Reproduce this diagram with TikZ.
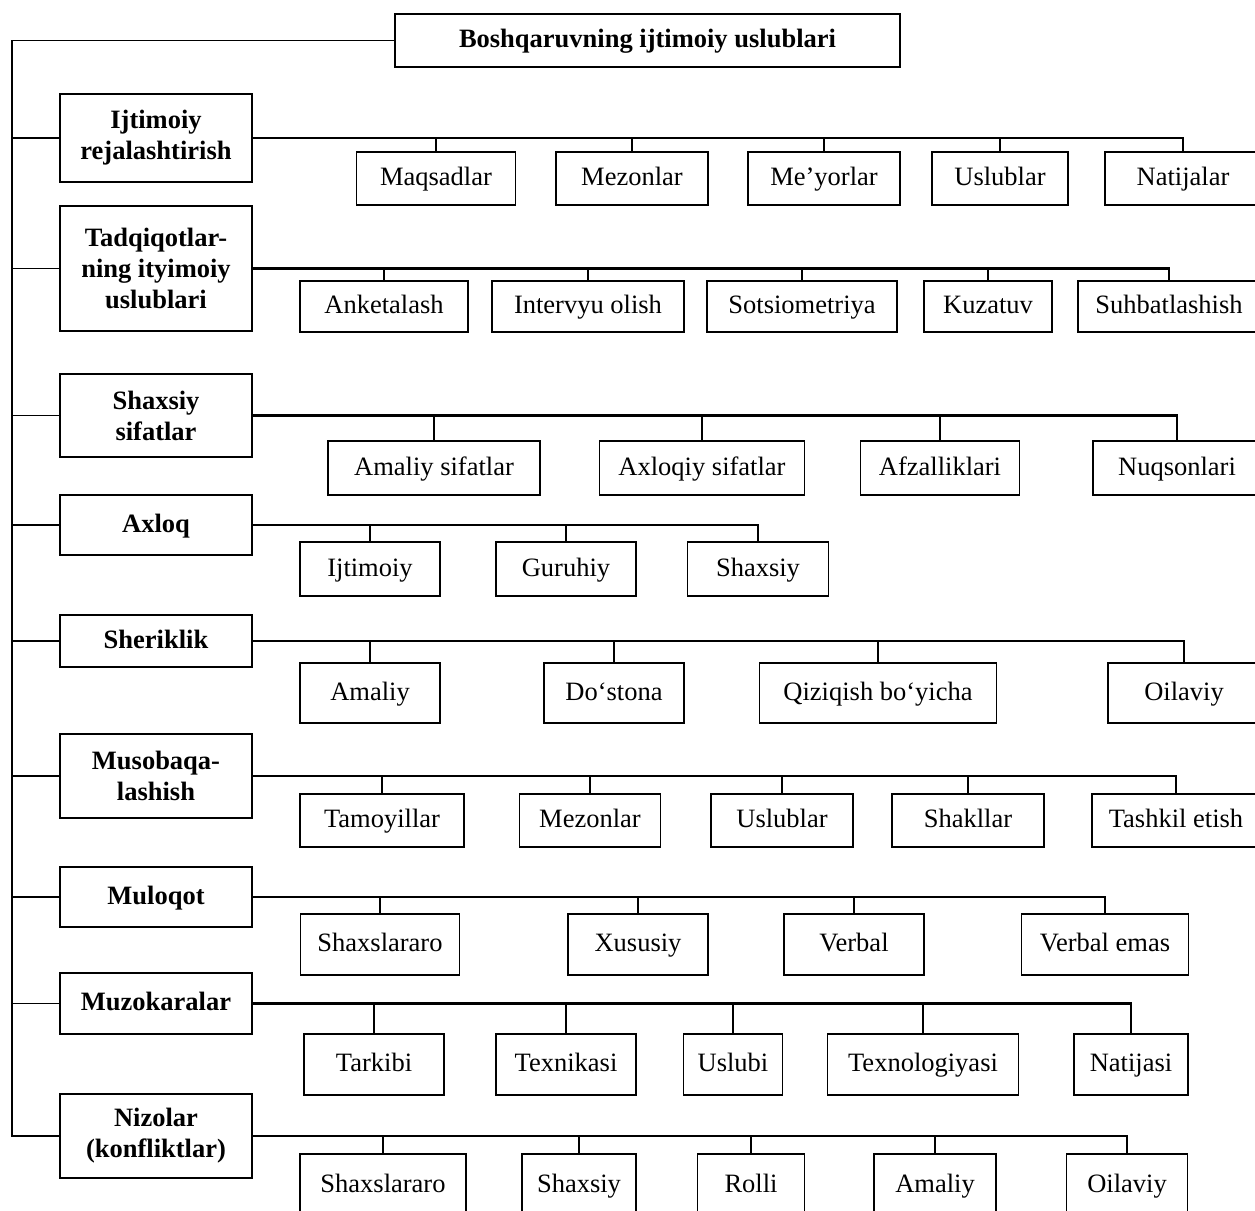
\documentclass[tikz,border=0pt]{standalone}
\usepackage{fontspec}
\setmainfont{Liberation Serif}
\begin{document}
\begin{tikzpicture}[x=1pt,y=-1pt,
  every node/.style={inner sep=0pt, font=\fontsize{26.5}{31}\selectfont},
  bx/.style={draw, line width=1.6pt, align=center},
  kid/.style={bx, text height=19pt, text depth=5pt},
  cat/.style={bx, minimum width=192pt, font=\fontsize{26.5}{31}\selectfont\bfseries},
  conn/.style={line width=1.6pt},
  mainline/.style={line width=2.3pt}]
\clip (0,0) rectangle (1255,1210);
\fill[white] (0,0) rectangle (1255,1210);
\coordinate (tr) at (12,0);

% title
\node[bx, minimum width=505pt, minimum height=53pt, text height=19pt, text depth=5pt, font=\fontsize{26.5}{31}\selectfont\bfseries] (title) at (647.5,40.5) {Boshqaruvning ijtimoiy uslublari};

% categories
\node[cat, minimum height=88pt]  (c1) at (156,138)   {Ijtimoiy\\rejalashtirish};
\node[cat, minimum height=125pt] (c2) at (156,268.5) {Tadqiqotlar-\\ning ityimoiy\\uslublari};
\node[cat, minimum height=83pt]  (c3) at (156,415.5) {Shaxsiy\\sifatlar};
\node[cat, minimum height=60pt, text height=19pt, text depth=5pt]  (c4) at (156,525)   {Axloq};
\node[cat, minimum height=52pt, text height=19pt, text depth=5pt]  (c5) at (156,641)   {Sheriklik};
\node[cat, minimum height=84pt]  (c6) at (156,776)   {Musobaqa-\\lashish};
\node[cat, minimum height=60pt, text height=19pt, text depth=5pt]  (c7) at (156,897)   {Muloqot};
\node[cat, minimum height=61pt, text height=19pt, text depth=5pt]  (c8) at (156,1003.5){Muzokaralar};
\node[cat, minimum height=84pt]  (c9) at (156,1136)  {Nizolar\\(konfliktlar)};

% trunk
\draw[conn] (title.west) -| (c9.west -| tr) -- (c9.west);
\foreach \c in {c1,c2,c3,c4,c5,c6,c7,c8}
  \draw[conn] (\c.west -| tr) -- (\c.west);

% row 1
\begin{scope}[every node/.append style={kid, minimum height=53pt}]
\node[minimum width=159pt] (k11) at (436,178.5)  {Maqsadlar};
\node[minimum width=152pt] (k12) at (632,178.5)  {Mezonlar};
\node[minimum width=152pt] (k13) at (824,178.5)  {Me’yorlar};
\node[minimum width=136pt] (k14) at (1000,178.5) {Uslublar};
\node[minimum width=156pt] (k15) at (1183,178.5) {Natijalar};
\end{scope}
\draw[mainline] (c1.east) -| (k15.north);
\foreach \k in {k11,k12,k13,k14}
  \draw[conn] (\k.north) -- (\k.north |- c1.east);

% row 2
\begin{scope}[every node/.append style={kid, minimum height=51pt}]
\node[minimum width=168pt] (k21) at (384,306.5)  {Anketalash};
\node[minimum width=192pt] (k22) at (588,306.5)  {Intervyu olish};
\node[minimum width=190pt] (k23) at (802,306.5)  {Sotsiometriya};
\node[minimum width=128pt] (k24) at (988,306.5)  {Kuzatuv};
\node[minimum width=182pt] (k25) at (1169,306.5) {Suhbatlashish};
\end{scope}
\draw[mainline] (c2.east) -| (k25.north);
\foreach \k in {k21,k22,k23,k24}
  \draw[conn] (\k.north) -- (\k.north |- c2.east);

% row 3
\begin{scope}[every node/.append style={kid, minimum height=54pt}]
\node[minimum width=212pt] (k31) at (434,468)  {Amaliy sifatlar};
\node[minimum width=205pt] (k32) at (702,468)  {Axloqiy sifatlar};
\node[minimum width=159pt] (k33) at (940,468)  {Afzalliklari};
\node[minimum width=168pt] (k34) at (1177,468) {Nuqsonlari};
\end{scope}
\draw[mainline] (c3.east) -| (k34.north);
\foreach \k in {k31,k32,k33}
  \draw[conn] (\k.north) -- (\k.north |- c3.east);

% row 4
\begin{scope}[every node/.append style={kid, minimum height=54pt}]
\node[minimum width=140pt] (k41) at (370,569) {Ijtimoiy};
\node[minimum width=140pt] (k42) at (566,569) {Guruhiy};
\node[minimum width=141pt] (k43) at (758,569) {Shaxsiy};
\end{scope}
\draw[mainline] (c4.east) -| (k43.north);
\foreach \k in {k41,k42}
  \draw[conn] (\k.north) -- (\k.north |- c4.east);

% row 5
\begin{scope}[every node/.append style={kid, minimum height=60pt}]
\node[minimum width=140pt] (k51) at (370,693)  {Amaliy};
\node[minimum width=140pt] (k52) at (614,693)  {Do‘stona};
\node[minimum width=237pt] (k53) at (878,693)  {Qiziqish bo‘yicha};
\node[minimum width=152pt] (k54) at (1184,693) {Oilaviy};
\end{scope}
\draw[mainline] (c5.east) -| (k54.north);
\foreach \k in {k51,k52,k53}
  \draw[conn] (\k.north) -- (\k.north |- c5.east);

% row 6
\begin{scope}[every node/.append style={kid, minimum height=53pt}]
\node[minimum width=164pt] (k61) at (382,820.5)  {Tamoyillar};
\node[minimum width=141pt] (k62) at (590,820.5)  {Mezonlar};
\node[minimum width=142pt] (k63) at (782,820.5)  {Uslublar};
\node[minimum width=152pt] (k64) at (968,820.5)  {Shakllar};
\node[minimum width=168pt] (k65) at (1176,820.5) {Tashkil etish};
\end{scope}
\draw[mainline] (c6.east) -| (k65.north);
\foreach \k in {k61,k62,k63,k64}
  \draw[conn] (\k.north) -- (\k.north |- c6.east);

% row 7
\begin{scope}[every node/.append style={kid, minimum height=61pt}]
\node[minimum width=159pt] (k71) at (380,944.5)  {Shaxslararo};
\node[minimum width=140pt] (k72) at (638,944.5)  {Xususiy};
\node[minimum width=140pt] (k73) at (854,944.5)  {Verbal};
\node[minimum width=167pt] (k74) at (1105,944.5) {Verbal emas};
\end{scope}
\draw[mainline] (c7.east) -| (k74.north);
\foreach \k in {k71,k72,k73}
  \draw[conn] (\k.north) -- (\k.north |- c7.east);

% row 8
\begin{scope}[every node/.append style={kid, minimum height=61pt}]
\node[minimum width=140pt] (k81) at (374,1064.5)  {Tarkibi};
\node[minimum width=140pt] (k82) at (566,1064.5)  {Texnikasi};
\node[minimum width=99pt]  (k83) at (733,1064.5)  {Uslubi};
\node[minimum width=191pt] (k84) at (923,1064.5)  {Texnologiyasi};
\node[minimum width=114pt] (k85) at (1131,1064.5) {Natijasi};
\end{scope}
\draw[mainline] (c8.east) -| (k85.north);
\foreach \k in {k81,k82,k83,k84}
  \draw[conn] (\k.north) -- (\k.north |- c8.east);

% row 9
\begin{scope}[every node/.append style={kid, minimum height=62pt}]
\node[minimum width=166pt] (k91) at (383,1185)  {Shaxslararo};
\node[minimum width=114pt] (k92) at (579,1185)  {Shaxsiy};
\node[minimum width=107pt] (k93) at (751,1185)  {Rolli};
\node[minimum width=122pt] (k94) at (935,1185)  {Amaliy};
\node[minimum width=121pt] (k95) at (1127,1185) {Oilaviy};
\end{scope}
\draw[mainline] (c9.east) -| (k95.north);
\foreach \k in {k91,k92,k93,k94}
  \draw[conn] (\k.north) -- (\k.north |- c9.east);
\end{tikzpicture}
\end{document}
